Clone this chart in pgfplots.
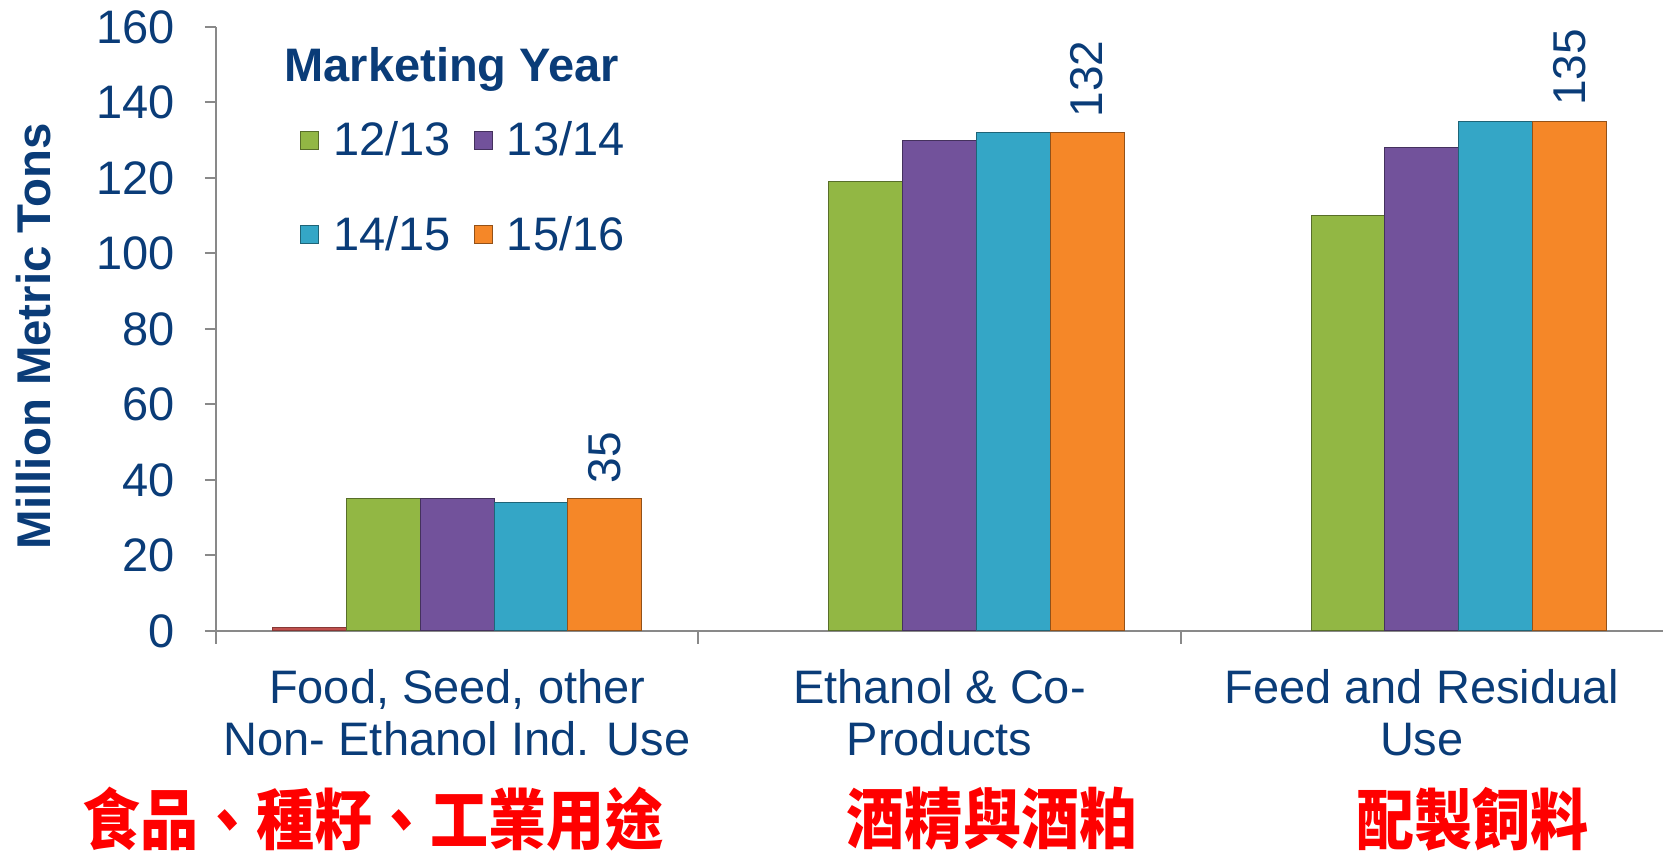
\documentclass[border=0pt]{standalone}
\usepackage{pgfplots}
\pgfplotsset{compat=1.18}
\usepackage{fontspec}
\setmainfont{Liberation Sans}
\newfontfamily\cjk[FakeStretch=0.88]{Noto Sans CJK TC}
\definecolor{navy}{RGB}{10,60,120}
\definecolor{axisgray}{RGB}{137,137,137}
\definecolor{cgreen}{RGB}{146,183,68}
\definecolor{cpurple}{RGB}{114,82,155}
\definecolor{ccyan}{RGB}{52,166,198}
\definecolor{corange}{RGB}{245,135,40}
\definecolor{cred}{RGB}{192,80,77}
\begin{document}
\begin{tikzpicture}
\begin{axis}[
  scale only axis, width=723.5pt, height=302pt,
  xmin=-0.5, xmax=2.5, ymin=0, ymax=160,
  ybar, bar width=0.153,
  every axis plot/.append style={legend image code/.code={\draw[##1, line width=0.5pt] (0pt,-4.5pt) rectangle (9pt,4.5pt);}},
  axis x line=bottom, axis y line=left,
  axis line style={-, draw=axisgray, line width=1pt},
  clip=false,
  ytick={0,20,...,160},
  xtick={0,1,2},
  xticklabels={{Food, Seed, other\\Non- Ethanol Ind. Use},{Ethanol \& Co-\\Products},{Feed and Residual\\Use}},
  xticklabel style={align=center, font=\fontsize{23.5}{26}\selectfont, text=navy, yshift=-10pt},
  yticklabel style={font=\fontsize{23.5}{28}\selectfont, text=navy, xshift=-11.5pt},
  /pgf/number format/assume math mode=true,
  tick align=outside,
  major tick length=5.5pt,
  tick style={draw=axisgray, line width=1pt},
  xtick style={draw=none},
  extra x ticks={-0.5,0.5,1.5},
  extra x tick labels={},
  extra x tick style={xtick style={draw=axisgray, line width=1pt}, major tick length=6.5pt},
  every axis y label/.style={at={(rel axis cs:-0.1258,0.488)}, rotate=90, anchor=center},
  ylabel={Million Metric Tons},
  ylabel style={font=\bfseries\fontsize{23.7}{28}\selectfont, text=navy},
  legend columns=2,
  legend style={at={(rel axis cs:0.058,0.734)}, anchor=west, draw=none, fill=none,
    font=\fontsize{23.5}{28}\selectfont, text=navy, inner sep=0pt,
    nodes={inner xsep=7pt},
    /tikz/every even column/.append style={column sep=4.5pt}, row sep=24.7pt},
]
\addplot[fill=cred, draw=cred!70!black, line width=0.5pt, bar shift=-0.306, forget plot] coordinates {(0,1)};
\addplot[fill=cgreen, draw=cgreen!60!black, line width=0.5pt, bar shift=-0.153] coordinates {(0,35) (1,119) (2,110)};
\addplot[fill=cpurple, draw=cpurple!60!black, line width=0.5pt, bar shift=0] coordinates {(0,35) (1,130) (2,128)};
\addplot[fill=ccyan, draw=ccyan!60!black, line width=0.5pt, bar shift=0.153] coordinates {(0,34) (1,132) (2,135)};
\addplot[fill=corange, draw=corange!60!black, line width=0.5pt, bar shift=0.306,
  nodes near coords, nodes near coords style={rotate=90, anchor=west, inner xsep=7.5pt, inner ysep=0pt, font=\fontsize{23}{28}\selectfont, text=navy}] coordinates {(0,35) (1,132) (2,135)};
\legend{12/13,13/14,14/15,15/16}
\coordinate (bl) at (rel axis cs:0,0);
\coordinate (tr) at (rel axis cs:1,1);
\node[font=\bfseries\fontsize{23.5}{28}\selectfont, text=navy] at (rel axis cs:0.163,0.929) {Marketing Year};
\node[font={\cjk\bfseries\fontsize{33}{38}\selectfont}, text=red, yshift=-94pt] at (axis cs:-0.175,0) {食品、種籽、工業用途};
\node[font={\cjk\bfseries\fontsize{33}{38}\selectfont}, text=red, yshift=-94pt] at (axis cs:1.109,0) {酒精與酒粕};
\node[font={\cjk\bfseries\fontsize{33}{38}\selectfont}, text=red, yshift=-94pt] at (axis cs:2.105,0) {配製飼料};
\end{axis}
\pgfresetboundingbox
\path[use as bounding box] ([xshift=-108pt,yshift=-111.5pt]bl) rectangle ([yshift=13.5pt]tr);
\end{tikzpicture}
\end{document}
